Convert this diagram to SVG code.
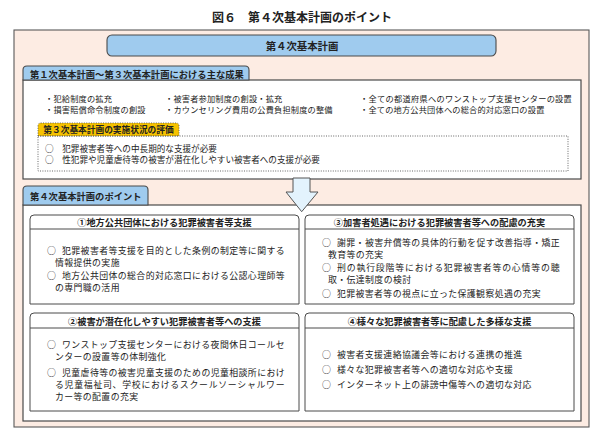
<svg xmlns="http://www.w3.org/2000/svg" width="602" height="443" viewBox="0 0 602 443">
<style>
text{font-family:"Noto Sans CJK JP","Noto Sans",sans-serif;fill:#222;dominant-baseline:central}
.t{font-size:12px;font-weight:bold;text-anchor:middle}
.h{font-size:10.4px;font-weight:bold;text-anchor:middle}
.tab{font-size:9.3px;font-weight:bold}
.b{font-size:8.2px;letter-spacing:0.2px}
.sh{font-size:9.2px;font-weight:bold;text-anchor:middle}
.s{font-size:8.9px;letter-spacing:0.4px}
.box{fill:#fff;stroke:#4a4a4a;stroke-width:1.2}
.sub{fill:#fff;stroke:#4a4a4a;stroke-width:1}
.blue{fill:#9fcbee;stroke:#4a4a4a;stroke-width:1.1}
.dot{fill:none;stroke:#555;stroke-width:0.9;stroke-dasharray:1 1.4}
</style>
<rect width="602" height="443" fill="#fff"/>
<text class="t" x="302" y="16">図６　第４次基本計画のポイント</text>
<g id="frame">
<rect x="14" y="30" width="575" height="397" fill="#fdece3" stroke="#5a5a5a" stroke-width="1.1"/>
</g>
<g id="plan4">
<rect class="blue" x="107" y="35" width="389" height="21" rx="5"/>
<text class="h" x="302" y="45.5">第４次基本計画</text>
</g>
<g id="results">
<rect class="box" x="23" y="80" width="558" height="99"/>
<path class="blue" d="M23,80 V70 Q23,66 27,66 H245 Q249,66 249,70 V80 Z"/>
<text class="tab" x="30" y="73.5">第１次基本計画～第３次基本計画における主な成果</text>
<text class="b" x="45" y="97.5">・犯給制度の拡充</text>
<text class="b" x="45" y="108.5">・損害賠償命令制度の創設</text>
<text class="b" x="165" y="97.5">・被害者参加制度の創設・拡充</text>
<text class="b" x="165" y="108.5">・カウンセリング費用の公費負担制度の整備</text>
<text class="b" x="360" y="97.5" textLength="212" lengthAdjust="spacing">・全ての都道府県へのワンストップ支援センターの設置</text>
<text class="b" x="360" y="108.5">・全ての地方公共団体への総合的対応窓口の設置</text>
</g>
<g id="evaluation">
<path d="M38,136 V126 Q38,123 41,123 H176 Q179,123 179,126 V136 Z" fill="#f6c200" stroke="#555" stroke-width="0.9" stroke-dasharray="1 1.4"/>
<text class="tab" x="108.5" y="129.8" style="font-size:8.7px;text-anchor:middle">第３次基本計画の実施状況の評価</text>
<rect class="dot" x="38" y="136" width="530" height="35"/>
<text class="b" x="45" y="148" style="font-size:8.6px;letter-spacing:0">○　犯罪被害者等への中長期的な支援が必要</text>
<text class="b" x="45" y="159" style="font-size:8.6px;letter-spacing:0">○　性犯罪や児童虐待等の被害が潜在化しやすい被害者への支援が必要</text>
</g>
<g id="points">
<rect class="box" x="23" y="205" width="558" height="216"/>
<path class="blue" d="M23,205 V190 Q23,186 27,186 H144 Q148,186 148,190 V205 Z"/>
<text class="tab" x="30" y="195.5">第４次基本計画のポイント</text>
</g>
<g id="connectors">
<polygon points="293,178 310,178 310,192 318,192 301.7,211.7 286,192 293,192" fill="#e3f3fd" stroke="#555" stroke-width="1"/>
</g>
<g id="p1">
<path class="sub" d="M30,304 V219 Q30,215 34,215 H295 Q299,215 299,219 V304 Z"/>
<line x1="30" y1="229" x2="299" y2="229" stroke="#4a4a4a" stroke-width="1"/>
<text class="sh" x="164.5" y="222">①地方公共団体における犯罪被害者等支援</text>
<text class="s" x="47" y="250.5">○</text>
<text class="s" x="62" y="250.5" textLength="223" lengthAdjust="spacing">犯罪被害者等支援を目的とした条例の制定等に関する</text>
<text class="s" x="55" y="262.5">情報提供の実施</text>
<text class="s" x="47" y="275.5">○</text>
<text class="s" x="62" y="275.5" textLength="223" lengthAdjust="spacing">地方公共団体の総合的対応窓口における公認心理師等</text>
<text class="s" x="55" y="287.5">の専門職の活用</text>
</g>
<g id="p3">
<path class="sub" d="M305,304 V219 Q305,215 309,215 H570 Q574,215 574,219 V304 Z"/>
<line x1="305" y1="229" x2="574" y2="229" stroke="#4a4a4a" stroke-width="1"/>
<text class="sh" x="439.5" y="222">③加害者処遇における犯罪被害者等への配慮の充実</text>
<text class="s" x="322" y="242">○</text>
<text class="s" x="337" y="242" textLength="223" lengthAdjust="spacing">謝罪・被害弁償等の具体的行動を促す改善指導・矯正</text>
<text class="s" x="328" y="254">教育等の充実</text>
<text class="s" x="322" y="267.5">○</text>
<text class="s" x="337" y="267.5" textLength="223" lengthAdjust="spacing">刑の執行段階等における犯罪被害者等の心情等の聴</text>
<text class="s" x="328" y="279.5">取・伝達制度の検討</text>
<text class="s" x="322" y="293">○</text>
<text class="s" x="337" y="293">犯罪被害者等の視点に立った保護観察処遇の充実</text>
</g>
<g id="p2">
<path class="sub" d="M30,411 V317 Q30,313 34,313 H295 Q299,313 299,317 V411 Z"/>
<line x1="30" y1="328" x2="299" y2="328" stroke="#4a4a4a" stroke-width="1"/>
<text class="sh" x="164.5" y="320.5">②被害が潜在化しやすい犯罪被害者等への支援</text>
<text class="s" x="47" y="344">○</text>
<text class="s" x="62" y="344" textLength="223" lengthAdjust="spacing">ワンストップ支援センターにおける夜間休日コールセ</text>
<text class="s" x="55" y="356">ンターの設置等の体制強化</text>
<text class="s" x="47" y="372">○</text>
<text class="s" x="62" y="372" textLength="223" lengthAdjust="spacing">児童虐待等の被害児童支援のための児童相談所におけ</text>
<text class="s" x="55" y="384" textLength="230" lengthAdjust="spacing">る児童福祉司、学校におけるスクールソーシャルワー</text>
<text class="s" x="55" y="396">カー等の配置の充実</text>
</g>
<g id="p4">
<path class="sub" d="M305,411 V317 Q305,313 309,313 H570 Q574,313 574,317 V411 Z"/>
<line x1="305" y1="328" x2="574" y2="328" stroke="#4a4a4a" stroke-width="1"/>
<text class="sh" x="439.5" y="320.5">④様々な犯罪被害者等に配慮した多様な支援</text>
<text class="s" x="322" y="354">○</text>
<text class="s" x="337" y="354">被害者支援連絡協議会等における連携の推進</text>
<text class="s" x="322" y="369">○</text>
<text class="s" x="337" y="369">様々な犯罪被害者等への適切な対応や支援</text>
<text class="s" x="322" y="384">○</text>
<text class="s" x="337" y="384">インターネット上の誹謗中傷等への適切な対応</text>
</g>
</svg>
